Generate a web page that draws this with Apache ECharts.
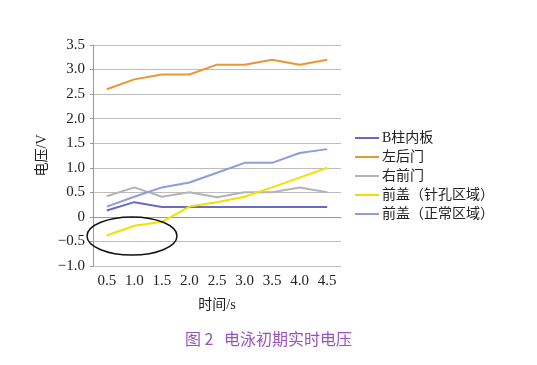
<!DOCTYPE html>
<html><head><meta charset="utf-8">
<script src="https://cdn.jsdelivr.net/npm/echarts@6/dist/echarts.min.js"></script>
<style>html,body{margin:0;padding:0;background:#fff}#c{width:537px;height:365px}</style>
</head><body><div id="c"></div>
<script>
var categories = ['0.5','1.0','1.5','2.0','2.5','3.0','3.5','4.0','4.5'];
var seriesNames = ['B柱内板','左后门','右前门','前盖（针孔区域）','前盖（正常区域）'];
var bPillar = [0.13,0.3,0.2,0.2,0.2,0.2,0.2,0.2,0.2];
var leftRearDoor = [2.6,2.8,2.9,2.9,3.1,3.1,3.2,3.1,3.2];
var rightFrontDoor = [0.42,0.6,0.41,0.5,0.4,0.5,0.5,0.6,0.5];
var hoodPinhole = [-0.38,-0.18,-0.1,0.21,0.3,0.41,0.6,0.8,1.0];
var hoodNormal = [0.21,0.41,0.6,0.7,0.9,1.1,1.1,1.3,1.38];
var yTicks = ['-1.0','-0.5','0','0.5','1.0','1.5','2.0','2.5','3.0','3.5'];
var colors = ['#6a6ac6','#ec9533','#b4b4b4','#f2e000','#8d9cdc'];

var chart = echarts.init(document.getElementById('c'));
var serif = '"Liberation Serif","Noto Sans CJK SC",serif';
var dataSets = [bPillar, leftRearDoor, rightFrontDoor, hoodPinhole, hoodNormal];
chart.setOption({
  animation:false,
  backgroundColor:'#fff',
  grid:{left:93,right:196,top:45,bottom:99,containLabel:false},
  legend:{
    orient:'vertical', left:350, top:126, itemGap:5, itemWidth:24, itemHeight:2,
    icon:'rect',
    textStyle:{fontFamily:serif,fontSize:14,color:'#222',padding:[0,0,0,-2]},
    data:seriesNames
  },
  xAxis:{
    type:'category', data:categories, boundaryGap:true,
    name:'时间/s', nameLocation:'middle', nameGap:32,
    nameTextStyle:{fontFamily:serif,fontSize:14,color:'#222'},
    axisLine:{lineStyle:{color:'#999'}},
    axisTick:{alignWithLabel:true,length:4,lineStyle:{color:'#999'}},
    axisLabel:{fontFamily:serif,fontSize:15,color:'#222',margin:8}
  },
  yAxis:{
    type:'value', min:-1, max:3.5, interval:0.5,
    name:'电压/V', nameLocation:'middle', nameGap:44,
    nameTextStyle:{fontFamily:serif,fontSize:14,color:'#222'},
    axisLine:{show:true,lineStyle:{color:'#999'}},
    axisTick:{show:true,length:3,lineStyle:{color:'#999'}},
    splitLine:{lineStyle:{color:'#bdbdbd',width:1}},
    axisLabel:{fontFamily:serif,fontSize:15,color:'#222',margin:8,
      formatter:function(v){var i=Math.round((v+1)/0.5);return (yTicks[i]||'').replace('-','−');}}
  },
  series: seriesNames.map(function(n,i){
    return {name:n,type:'line',data:dataSets[i],symbol:'none',
      lineStyle:{width:2,color:colors[i]},itemStyle:{color:colors[i]},z:i===2?1:3};
  }),
  graphic:[
    {type:'ellipse', shape:{cx:132,cy:236,rx:45,ry:19}, style:{fill:'none',stroke:'#111',lineWidth:1.5}, z:100},
    {type:'text', left:'center', top:331, style:{text:'图 2   电泳初期实时电压', fill:'#9a52bd', font:'16px "Noto Sans CJK SC", serif'}}
  ]
});
</script></body></html>
